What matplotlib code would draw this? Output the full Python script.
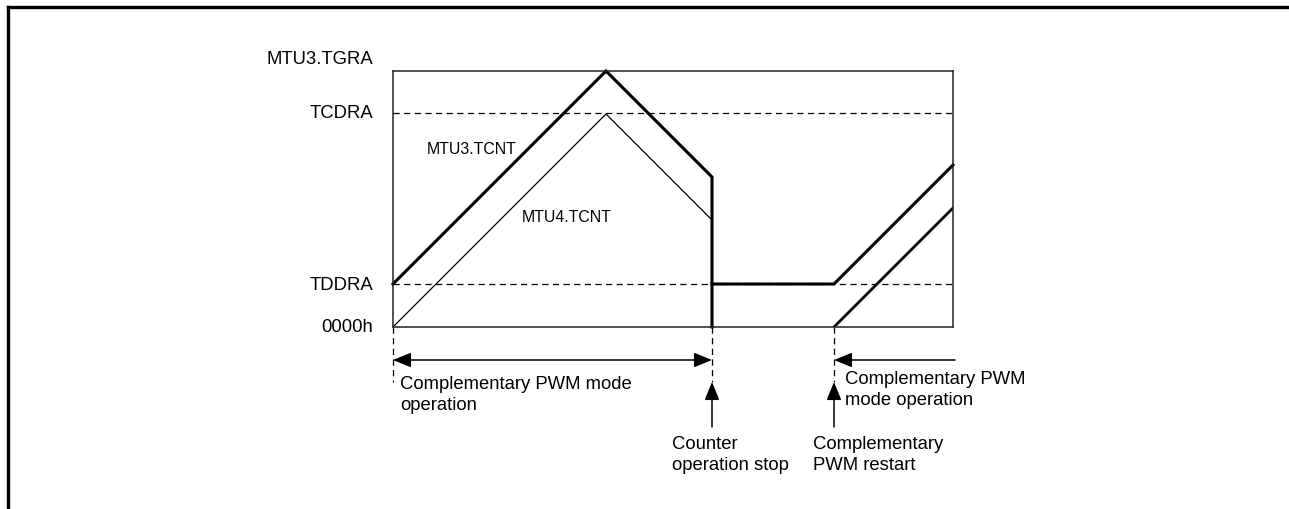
import matplotlib
matplotlib.use("Agg")
import matplotlib.pyplot as plt
from matplotlib.lines import Line2D

plt.rcParams['font.family'] = ['Liberation Sans', 'DejaVu Sans']

# register levels (counts)
TGRA = 256
TCDRA = 214
TDDRA = 43

# event times
t_stop = 319
t_restart = 441
t_end = 560

# MTU3.TCNT (thick)
t3 = [0, 213, t_stop, t_stop]
c3 = [TDDRA, TGRA, 150, 0]
t3b = [t_stop, t_restart, t_end]
c3b = [TDDRA, TDDRA, 162]

# MTU4.TCNT (thin before the stop, thick after restart)
t4 = [0, 213, t_stop]
c4 = [0, 213, 107]
t4b = [t_restart, t_end]
c4b = [0, 119]

level_names = ["MTU3.TGRA", "TCDRA", "TDDRA", "0000h"]
level_vals = [269, TCDRA, TDDRA, 0]

fig = plt.figure(figsize=(12.89, 5.10), dpi=100)
ax = fig.add_axes([393/1289, 1 - 328/510, 560/1289, 256/510])
ax.set_xlim(0, t_end)
ax.set_ylim(0, TGRA)
ax.set_xticks([])
ax.set_yticks([])
for s in ax.spines.values():
    s.set_linewidth(1.1)
    s.set_color('#222222')

# outer frame (top and left only)
fig.add_artist(Line2D([8/1289, 1], [1 - 8/510, 1 - 8/510], color='black', lw=2.4))
fig.add_artist(Line2D([8/1289, 8/1289], [0, 1 - 8/510], color='black', lw=2.4))

dash = dict(color='black', lw=0.9, linestyle=(0, (5, 3.5)))
ax.axhline(TCDRA, **dash)
ax.axhline(TDDRA, **dash)

ax.plot(t3, c3, color='black', lw=2.2, solid_joinstyle='miter', clip_on=False)
ax.plot(t3b, c3b, color='black', lw=2.2, solid_joinstyle='miter', clip_on=False)
ax.plot(t4, c4, color='black', lw=0.9)
ax.plot(t4b, c4b, color='black', lw=2.0)

fs = 13.3
for name, v in zip(level_names, level_vals):
    ax.text(-20, v, name, ha='right', va='center', fontsize=fs, clip_on=False)

ax.text(34, 178, "MTU3.TCNT", ha='left', va='center', fontsize=11.4)
ax.text(129, 110, "MTU4.TCNT", ha='left', va='center', fontsize=11.4)

# dashed guides below the box
for xv in [0, t_stop, t_restart]:
    ax.plot([xv, xv], [0, -55], clip_on=False, **dash)

arrow = dict(arrowstyle='-|>,head_length=1.1,head_width=0.45', color='black', lw=1.1,
             shrinkA=0, shrinkB=0)
dbl = dict(arrowstyle='<|-|>,head_length=1.1,head_width=0.45', color='black', lw=1.1,
           shrinkA=0, shrinkB=0)
ax.annotate("", xy=(0, -33), xytext=(t_stop, -33), arrowprops=dbl, annotation_clip=False)
ax.annotate("", xy=(t_restart, -33), xytext=(562, -33), arrowprops=arrow, annotation_clip=False)
ax.annotate("", xy=(t_stop, -55), xytext=(t_stop, -100), arrowprops=arrow, annotation_clip=False)
ax.annotate("", xy=(t_restart, -55), xytext=(t_restart, -100), arrowprops=arrow, annotation_clip=False)

ls = 1.25
ax.text(7, -67, "Complementary PWM mode\noperation", ha='left', va='center',
        fontsize=fs, linespacing=ls, clip_on=False)
ax.text(452, -62, "Complementary PWM\nmode operation", ha='left', va='center',
        fontsize=fs, linespacing=ls, clip_on=False)
ax.text(279, -127, "Counter\noperation stop", ha='left', va='center',
        fontsize=fs, linespacing=ls, clip_on=False)
ax.text(420, -127, "Complementary\nPWM restart", ha='left', va='center',
        fontsize=fs, linespacing=ls, clip_on=False)

fig.savefig("out.png", dpi=100)
